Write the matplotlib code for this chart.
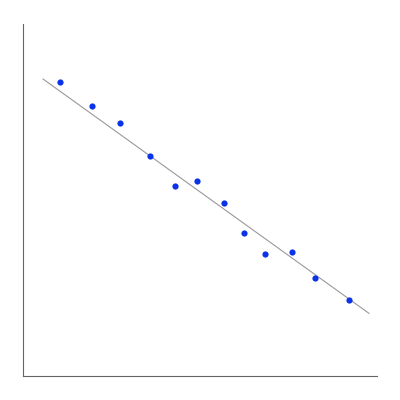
import matplotlib.pyplot as plt
import numpy as np

# values (arbitrary units)
x_vals = [37, 69, 97, 127, 152, 174, 200, 220, 241, 268, 291, 325]
y_vals = [294, 270, 253, 220, 190, 195, 173, 143, 122, 124, 98, 76]

# trend line as drawn in the reference
trend_slope = -0.721
trend_intercept = 311.4
trend_range = [20, 345]

fig = plt.figure(figsize=(4, 4), dpi=100)
ax = fig.add_axes([0.0575, 0.06, 0.885, 0.88])

lx = np.array(trend_range)
ax.plot(lx, trend_slope * lx + trend_intercept, color='#999999', linewidth=0.8, zorder=1)
ax.scatter(x_vals, y_vals, s=20, color='#0a32e6', zorder=2, linewidths=0)

ax.set_xlim(0, 353)
ax.set_ylim(0, 352)
ax.set_xticks([])
ax.set_yticks([])
for side in ['top', 'right']:
    ax.spines[side].set_visible(False)
for side in ['left', 'bottom']:
    ax.spines[side].set_color('#666666')
    ax.spines[side].set_linewidth(0.8)

fig.savefig('out.png', dpi=100)
